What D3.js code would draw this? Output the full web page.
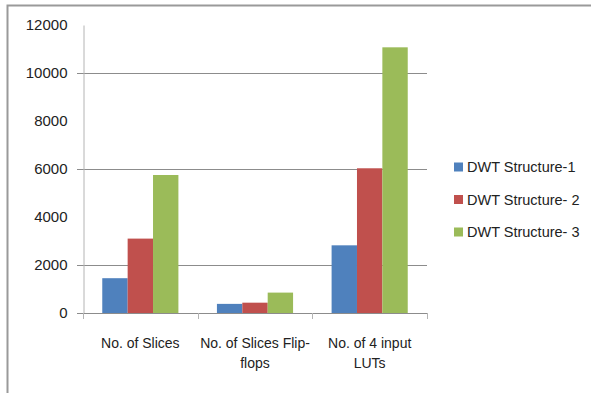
<!DOCTYPE html>
<html>
<head>
<meta charset="utf-8">
<script src="https://cdn.jsdelivr.net/npm/d3@7"></script>
<style>
  body { margin: 0; background: #fff; }
  svg text { font-family: 'Liberation Sans', Arial, sans-serif; fill: #222; }
</style>
</head>
<body>
<div id="chart"></div>
<script>
var categories = [
  ['No. of Slices'],
  ['No. of Slices Flip-', 'flops'],
  ['No. of 4 input', 'LUTs']
]
var seriesNames = ['DWT Structure-1', 'DWT Structure- 2', 'DWT Structure- 3']
var structure1 = [1450, 380, 2820]
var structure2 = [3100, 430, 6030]
var structure3 = [5750, 850, 11070]
var yTicks = [0, 2000, 4000, 6000, 8000, 10000, 12000]
var gridTicks = [2000, 6000, 10000]

var colors = ['#4f81bd', '#c0504d', '#9bbb59']
var series = [structure1, structure2, structure3]

var width = 591
var height = 393
var plot = { left: 83, right: 427, top: 25, bottom: 313 }

var svg = d3
  .select('#chart')
  .append('svg')
  .attr('width', width)
  .attr('height', height)

// outer frame (top and left edges visible)
svg
  .append('path')
  .attr('d', 'M7.5,393 V5.5 H591')
  .attr('fill', 'none')
  .attr('stroke', '#9a9a9a')
  .attr('stroke-width', 2)

var catIdx = categories.map(function(d, i) {
  return i
})

var x0 = d3
  .scaleBand()
  .domain(catIdx)
  .range([plot.left, plot.right])
  .padding(0)

var x1 = d3
  .scaleBand()
  .domain([0, 1, 2])
  .range([x0.bandwidth() * 0.168, x0.bandwidth() * 0.832])
  .padding(0)

var y = d3
  .scaleLinear()
  .domain([0, 12000])
  .range([plot.bottom, plot.top])

// gridlines
svg
  .append('g')
  .selectAll('line')
  .data(gridTicks)
  .enter()
  .append('line')
  .attr('x1', plot.left - 6)
  .attr('x2', plot.right)
  .attr('y1', function(d) {
    return Math.round(y(d)) + 0.5
  })
  .attr('y2', function(d) {
    return Math.round(y(d)) + 0.5
  })
  .attr('stroke', '#8c8c8c')
  .attr('stroke-width', 1)

// y axis
var yAxis = d3
  .axisLeft(y)
  .tickValues(yTicks)
  .tickSize(0)
  .tickPadding(16)
  .tickFormat(d3.format('d'))

var yg = svg
  .append('g')
  .attr('transform', 'translate(' + (plot.left + 0.5) + ',0)')
  .call(yAxis)
yg.select('.domain').attr('stroke', '#b4b4b4')
yg
  .selectAll('text')
  .attr('font-size', '15px')
  .attr('font-family', "'Liberation Sans', Arial, sans-serif")
  .attr('fill', '#222')

// bars
var groups = svg
  .append('g')
  .selectAll('g')
  .data(series)
  .enter()
  .append('g')
  .attr('fill', function(d, i) {
    return colors[i]
  })

groups
  .each(function(vals, si) {
    d3.select(this)
      .selectAll('rect')
      .data(vals)
      .enter()
      .append('rect')
      .attr('x', function(d, ci) {
        return x0(ci) + x1(si)
      })
      .attr('width', x1.bandwidth())
      .attr('y', function(d) {
        return y(d)
      })
      .attr('height', function(d) {
        return y(0) - y(d)
      })
  })

// x axis
var xg = svg.append('g')
xg
  .append('line')
  .attr('x1', plot.left - 6)
  .attr('x2', plot.right)
  .attr('y1', plot.bottom + 0.5)
  .attr('y2', plot.bottom + 0.5)
  .attr('stroke', '#8c8c8c')
var boundaries = catIdx.map(function(i) {
  return x0(i)
}).concat([plot.right])
xg
  .selectAll('.tick')
  .data(boundaries)
  .enter()
  .append('line')
  .attr('x1', function(d) {
    return Math.round(d) + 0.5
  })
  .attr('x2', function(d) {
    return Math.round(d) + 0.5
  })
  .attr('y1', plot.bottom)
  .attr('y2', plot.bottom + 6)
  .attr('stroke', '#b4b4b4')

xg
  .selectAll('.cat')
  .data(categories)
  .enter()
  .append('text')
  .attr('text-anchor', 'middle')
  .attr('font-size', '14px')
  .attr('transform', function(d, i) {
    return 'translate(' + (x0(i) + x0.bandwidth() / 2) + ',348)'
  })
  .each(function(lines) {
    var t = d3.select(this)
    lines.forEach(function(l, li) {
      t.append('tspan')
        .attr('x', 0)
        .attr('dy', li === 0 ? 0 : 20)
        .text(l)
    })
  })

// legend
var legend = svg
  .append('g')
  .selectAll('g')
  .data(seriesNames)
  .enter()
  .append('g')
  .attr('transform', function(d, i) {
    return 'translate(454,' + (167 + i * 32.5) + ')'
  })
legend
  .append('rect')
  .attr('x', 0)
  .attr('y', -4.5)
  .attr('width', 9)
  .attr('height', 9)
  .attr('fill', function(d, i) {
    return colors[i]
  })
legend
  .append('text')
  .attr('x', 13)
  .attr('y', 5)
  .attr('font-size', '14.5px')
  .text(function(d) {
    return d
  })
</script>
</body>
</html>
